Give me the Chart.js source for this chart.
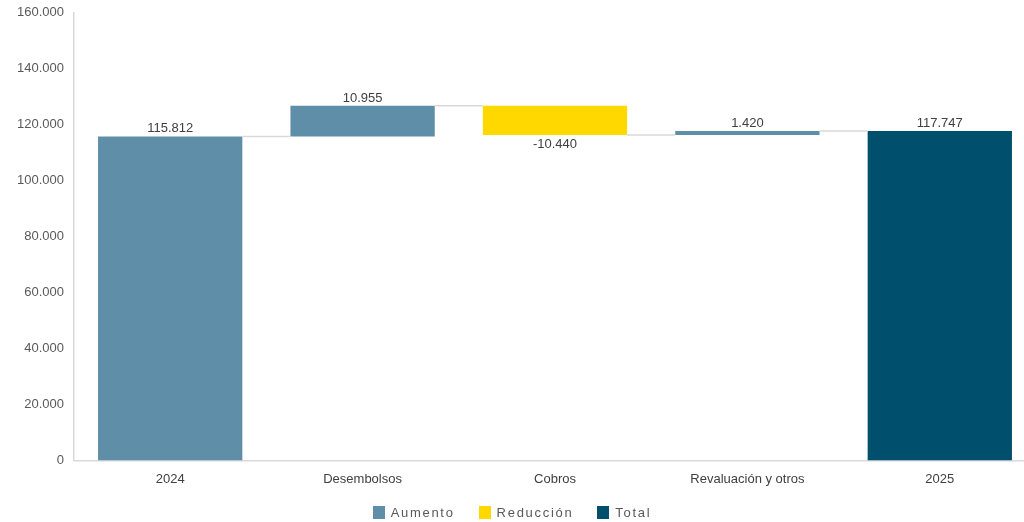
<!DOCTYPE html>
<html lang="es">

<head>
    <meta charset="UTF-8">
    <meta name="viewport" content="width=device-width, initial-scale=1.0">
    <script src="https://cdn.jsdelivr.net/npm/chart.js"></script>
    <title>Evolución del saldo</title>
    <style>
        html, body { margin: 0; padding: 0; background: #fff; overflow: hidden; }
        .grafico { position: relative; width: 1040px; height: 522px; }
        #cascada { position: absolute; left: 0; top: -5px; }
        .leyenda {
            position: absolute; left: 0; width: 1024px; top: 505px;
            display: flex; justify-content: center; gap: 24px;
            font-family: "Liberation Sans", Arial, sans-serif; font-size: 13px;
            color: #595959; letter-spacing: 1.7px;
        }
        .leyenda span { display: flex; align-items: center; }
        .leyenda i { display: inline-block; width: 12px; height: 13px; margin-right: 6px; }
    </style>
</head>

<body>
    <div class="grafico">
        <canvas id="cascada" width="1040" height="527"></canvas>
        <div class="leyenda" id="leyenda"></div>
    </div>

    <script>
        // Datos de la cascada
        const categorias = ['2024', 'Desembolsos', 'Cobros', 'Revaluación y otros', '2025'];
        const valores = [115812, 10955, -10440, 1420, 117747];
        // tipo de cada barra: 'inicio' y 'total' parten de cero
        const tipos = ['inicio', 'aumento', 'reduccion', 'aumento', 'total'];
        const ticksY = [0, 20000, 40000, 60000, 80000, 100000, 120000, 140000, 160000];

        const colores = { inicio: '#5F8FA8', aumento: '#5F8FA8', reduccion: '#FFD800', total: '#004F6D' };
        const leyenda = [['Aumento', '#5F8FA8'], ['Reducción', '#FFD800'], ['Total', '#004F6D']];

        function formato(n) {
            const s = Math.abs(n).toString().replace(/\B(?=(\d{3})+(?!\d))/g, '.');
            return (n < 0 ? '-' : '') + s;
        }

        // Rangos flotantes [desde, hasta] a partir del acumulado
        const rangos = [];
        let acumulado = 0;
        valores.forEach((v, i) => {
            if (tipos[i] === 'inicio' || tipos[i] === 'total') {
                rangos.push([0, v]);
                acumulado = v;
            } else {
                rangos.push([acumulado, acumulado + v]);
                acumulado += v;
            }
        });

        // Líneas de unión entre barras y etiquetas de valor
        const cascadaExtras = {
            id: 'cascadaExtras',
            afterDatasetsDraw(chart) {
                const ctx = chart.ctx;
                const y = chart.scales.y;
                const barras = chart.getDatasetMeta(0).data;
                ctx.save();
                ctx.strokeStyle = '#d9d9d9';
                ctx.lineWidth = 1.5;
                for (let i = 0; i < barras.length - 1; i++) {
                    const nivel = y.getPixelForValue(rangos[i][1]);
                    const a = barras[i], b = barras[i + 1];
                    ctx.beginPath();
                    ctx.moveTo(a.x + a.width / 2, nivel);
                    ctx.lineTo(b.x - b.width / 2, nivel);
                    ctx.stroke();
                }
                ctx.fillStyle = '#404040';
                ctx.font = '13px "Liberation Sans", Arial, sans-serif';
                ctx.textAlign = 'center';
                barras.forEach((bar, i) => {
                    const v = valores[i];
                    if (v < 0) {
                        ctx.textBaseline = 'top';
                        ctx.fillText(formato(v), bar.x, y.getPixelForValue(Math.min(...rangos[i])) + 3);
                    } else {
                        ctx.textBaseline = 'bottom';
                        ctx.fillText(formato(v), bar.x, y.getPixelForValue(Math.max(...rangos[i])) - 1);
                    }
                });
                ctx.restore();
            }
        };

        new Chart(document.getElementById('cascada'), {
            type: 'bar',
            data: {
                labels: categorias,
                datasets: [{
                    data: rangos,
                    backgroundColor: tipos.map(t => colores[t]),
                    barPercentage: 0.75,
                    categoryPercentage: 1.0,
                    borderSkipped: false
                }]
            },
            options: {
                responsive: false,
                animation: false,
                layout: { padding: { left: 7, right: 4, top: 2, bottom: 24 } },
                plugins: { legend: { display: false }, tooltip: { enabled: false } },
                scales: {
                    x: {
                        grid: { display: false, drawTicks: false },
                        border: { color: '#d9d9d9', width: 1.5 },
                        ticks: { color: '#404040', padding: 11, font: { family: '"Liberation Sans", Arial, sans-serif', size: 13 } }
                    },
                    y: {
                        min: 0, max: 160000,
                        afterBuildTicks: s => { s.ticks = ticksY.map(v => ({ value: v })); },
                        grid: { display: false, drawTicks: false },
                        border: { color: '#d9d9d9', width: 1.5 },
                        ticks: {
                            color: '#595959', padding: 10,
                            font: { family: '"Liberation Sans", Arial, sans-serif', size: 13 },
                            callback: v => formato(v)
                        }
                    }
                }
            },
            plugins: [cascadaExtras]
        });

        // Leyenda
        document.getElementById('leyenda').innerHTML = leyenda
            .map(([t, c]) => `<span><i style="background:${c}"></i>${t}</span>`).join('');
    </script>
</body>

</html>
